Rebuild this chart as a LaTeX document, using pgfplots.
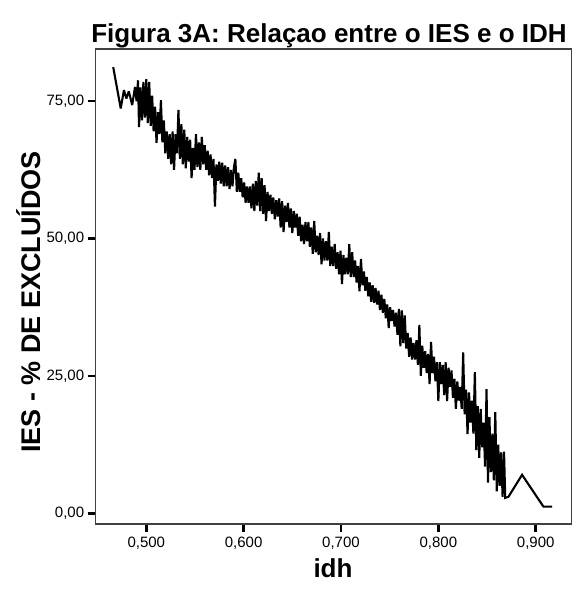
\documentclass[border=0pt]{standalone}
\usepackage{fontspec}
\setmainfont{Liberation Sans}
\usepackage{pgfplots}
\pgfplotsset{compat=1.18}
\begin{document}
\begin{tikzpicture}[x=1pt,y=1pt]
\path[use as bounding box] (0,0) rectangle (579,592);
\begin{axis}[
  at={(95.7pt,68pt)}, anchor=south west,
  scale only axis, width=476pt, height=475pt,
  xmin=0.448, xmax=0.937, ymin=-1.95, ymax=84.5,
  axis line style={draw=black!75, line width=1.2pt},
  xtick={0.5,0.6,0.7,0.8,0.9}, ytick={0,25,50,75},
  tick align=outside, xtick pos=bottom, ytick pos=left,
  major tick length=8pt,
  every tick/.append style={black, line width=2.5pt},
  tick label style={font=\fontsize{15}{17}\selectfont, /pgf/number format/assume math mode=true},
  xticklabel style={yshift=-1pt, /pgf/number format/.cd, fixed, fixed zerofill, precision=3, use comma},
  yticklabel style={/pgf/number format/.cd, fixed, fixed zerofill, precision=2, use comma},
  scaled ticks=false,
]
\addplot[black, line width=2.1pt, line join=miter, miter limit=2] coordinates {
(0.466,81.2)(0.4737,73.7)(0.477,77.0)(0.4795,75.5)(0.482,76.8)(0.4855,74.3)(0.4884,77.6)(0.4900,75.0)
(0.4915,78.8)(0.4925,70.3)(0.494,77.5)(0.4955,71.5)(0.497,78.5)(0.4985,72.0)(0.500,79.0)(0.5015,71.0)
(0.503,78.5)(0.5045,70.5)(0.506,76.0)(0.5075,69.5)(0.509,74.0)(0.5105,67.4)(0.512,73.0)(0.5135,69.0)
(0.515,75.2)(0.5165,67.5)(0.518,71.5)(0.5195,65.5)(0.521,69.5)(0.5225,64.5)(0.524,69.0)(0.5255,63.5)
(0.527,69.5)(0.5285,62.5)(0.530,69.0)(0.5315,65.5)(0.533,73.4)(0.5345,64.5)(0.536,70.8)(0.5375,63.5)
(0.539,69.8)(0.5405,62.8)(0.542,68.5)(0.5435,64.0)(0.545,68.0)(0.5465,61.0)(0.548,66.5)(0.5495,62.5)
(0.551,69.0)(0.5525,63.0)(0.554,67.5)(0.5555,62.5)(0.557,68.5)(0.5585,63.5)(0.560,67.0)(0.5615,62.5)
(0.563,66.0)(0.5645,61.5)(0.566,65.3)(0.5675,61.0)(0.569,64.5)(0.5705,55.8)(0.572,63.5)(0.5735,60.5)
(0.575,64.0)(0.5765,60.0)(0.578,63.8)(0.5795,59.5)(0.581,63.3)(0.5825,59.5)(0.584,63.0)(0.5855,59.0)
(0.587,62.5)(0.5885,59.5)(0.590,63.0)(0.5915,64.5)(0.593,58.5)(0.5945,62.0)(0.596,58.5)(0.5975,61.0)
(0.599,57.5)(0.6005,60.2)(0.602,56.5)(0.6035,59.5)(0.605,56.5)(0.6065,59.5)(0.608,55.5)(0.6095,60.0)
(0.611,55.0)(0.6125,60.5)(0.614,56.0)(0.6155,62.0)(0.617,55.0)(0.6185,61.0)(0.620,54.5)(0.6215,59.7)
(0.623,53.2)(0.6245,58.5)(0.626,55.0)(0.6275,58.0)(0.629,54.5)(0.6305,57.5)(0.632,53.5)(0.6335,57.0)
(0.635,54.0)(0.6365,57.3)(0.638,52.0)(0.6395,56.8)(0.641,51.2)(0.6425,56.0)(0.644,53.0)(0.6455,56.5)
(0.647,52.0)(0.6485,55.5)(0.650,51.0)(0.6515,55.0)(0.653,52.0)(0.6545,54.5)(0.656,50.5)(0.6575,54.0)
(0.659,49.5)(0.6605,52.5)(0.662,49.0)(0.6635,53.0)(0.665,49.5)(0.6665,53.0)(0.668,48.5)(0.6695,52.0)
(0.671,47.2)(0.6725,53.2)(0.674,47.5)(0.6755,50.5)(0.677,47.0)(0.6785,51.0)(0.680,45.3)(0.6815,50.0)
(0.683,46.0)(0.6845,49.5)(0.686,46.0)(0.6875,51.2)(0.689,45.0)(0.6905,48.5)(0.692,45.0)(0.6935,49.0)
(0.695,44.5)(0.6965,47.5)(0.698,43.5)(0.6995,47.8)(0.701,41.7)(0.7025,47.0)(0.704,43.5)(0.7055,46.5)
(0.707,43.5)(0.7085,49.0)(0.710,43.0)(0.7115,47.5)(0.713,43.0)(0.7145,46.0)(0.716,42.0)(0.7175,45.0)
(0.719,40.4)(0.7205,46.3)(0.722,41.5)(0.7235,44.0)(0.725,40.5)(0.7265,43.0)(0.728,39.5)(0.7295,42.0)
(0.731,38.5)(0.7325,41.5)(0.734,38.3)(0.7355,41.0)(0.737,38.0)(0.7385,40.5)(0.740,37.0)(0.7415,39.8)
(0.743,36.5)(0.7445,39.0)(0.746,35.5)(0.7475,38.0)(0.749,33.7)(0.7505,37.5)(0.752,35.0)(0.7535,37.0)
(0.755,34.0)(0.7565,36.5)(0.758,32.5)(0.7595,37.2)(0.761,30.4)(0.7625,36.9)(0.764,31.0)(0.7655,36.0)
(0.767,30.0)(0.7685,32.8)(0.770,28.5)(0.7715,32.0)(0.773,28.0)(0.7745,31.0)(0.776,28.0)(0.7775,31.5)
(0.779,27.0)(0.7805,34.3)(0.782,25.0)(0.7835,30.5)(0.785,26.5)(0.7865,29.5)(0.788,25.5)(0.7895,29.0)
(0.791,23.5)(0.7925,31.2)(0.794,25.5)(0.7955,28.5)(0.797,24.0)(0.7985,27.5)(0.800,20.4)(0.8015,27.5)
(0.803,23.5)(0.8045,27.0)(0.806,21.5)(0.8075,27.5)(0.809,20.4)(0.8105,26.5)(0.812,23.0)(0.8135,26.0)
(0.815,21.0)(0.8165,24.5)(0.818,19.0)(0.8195,24.0)(0.821,20.5)(0.8225,23.0)(0.824,19.0)(0.8255,29.3)
(0.827,18.0)(0.8285,22.5)(0.830,14.4)(0.8315,22.0)(0.833,16.5)(0.8345,20.5)(0.836,14.5)(0.8375,25.7)
(0.839,11.5)(0.8405,19.5)(0.842,10.1)(0.8435,19.0)(0.845,12.0)(0.8465,16.5)(0.848,8.5)(0.8495,22.6)
(0.851,5.6)(0.8525,17.5)(0.854,7.5)(0.8555,14.5)(0.857,6.0)(0.8585,18.4)(0.860,4.0)(0.8615,12.5)
(0.863,5.0)(0.8645,11.1)(0.866,3.0)(0.8675,11.2)(0.8687,2.8)(0.872,3.0)(0.886,7.0)(0.908,1.2)(0.917,1.2)
};
\end{axis}
\node[anchor=base, font=\bfseries\fontsize{26}{30}\selectfont] at (329,549) {Figura 3A: Relaçao entre o IES e o IDH};
\node[anchor=base, rotate=90, font=\bfseries\fontsize{27}{30}\selectfont] at (40.5,290) {IES - \% DE EXCLUÍDOS};
\node[font=\bfseries\fontsize{26}{30}\selectfont] at (333,24) {idh};
\end{tikzpicture}
\end{document}
